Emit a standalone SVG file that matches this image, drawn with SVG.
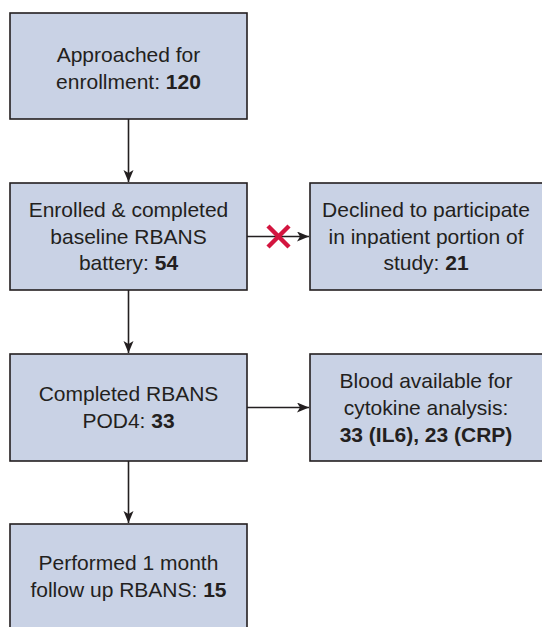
<svg xmlns="http://www.w3.org/2000/svg" width="542" height="627" viewBox="0 0 542 627">
<style>
.box{fill:#c9d2e5;stroke:#231f20;stroke-width:1.6}
.t{font-family:"Liberation Sans",Arial,sans-serif;font-size:21px;fill:#231f20;text-anchor:middle}
.b{font-weight:bold}
.c{stroke:#231f20;stroke-width:1.6;fill:none}
</style>
<defs>
<marker id="ah" markerUnits="userSpaceOnUse" markerWidth="14" markerHeight="12" refX="12" refY="5" orient="auto">
<path d="M0,0 L12,5 L0,10 L3,5 z" fill="#231f20"/>
</marker>
</defs>
<rect width="542" height="627" fill="#ffffff"/>
<g id="n1">
<rect class="box" x="10" y="13" width="237" height="106"/>
<text class="t" x="128.5" y="62">Approached for</text>
<text class="t" x="128.5" y="89">enrollment: <tspan class="b">120</tspan></text>
</g>
<g id="n2">
<rect class="box" x="10" y="183" width="237" height="107"/>
<text class="t" x="128.5" y="217">Enrolled &amp; completed</text>
<text class="t" x="128.5" y="244">baseline RBANS</text>
<text class="t" x="128.5" y="270">battery: <tspan class="b">54</tspan></text>
</g>
<g id="n3">
<rect class="box" x="310" y="183" width="240" height="107"/>
<text class="t" x="426" y="217">Declined to participate</text>
<text class="t" x="426" y="244">in inpatient portion of</text>
<text class="t" x="426" y="270">study: <tspan class="b">21</tspan></text>
</g>
<g id="n4">
<rect class="box" x="10" y="354" width="237" height="107"/>
<text class="t" x="128.5" y="401">Completed RBANS</text>
<text class="t" x="128.5" y="428">POD4: <tspan class="b">33</tspan></text>
</g>
<g id="n5">
<rect class="box" x="310" y="354" width="240" height="107"/>
<text class="t" x="426" y="388">Blood available for</text>
<text class="t" x="426" y="415">cytokine analysis:</text>
<text class="t b" x="426" y="442">33 (IL6), 23 (CRP)</text>
</g>
<g id="n6">
<rect class="box" x="10" y="524" width="237" height="120"/>
<text class="t" x="128.5" y="570">Performed 1 month</text>
<text class="t" x="128.5" y="597">follow up RBANS: <tspan class="b">15</tspan></text>
</g>
<g id="connectors">
<line class="c" x1="128.5" y1="119" x2="128.5" y2="182" marker-end="url(#ah)"/>
<line class="c" x1="128.5" y1="290" x2="128.5" y2="353" marker-end="url(#ah)"/>
<line class="c" x1="128.5" y1="461" x2="128.5" y2="523" marker-end="url(#ah)"/>
<line class="c" x1="247" y1="236.5" x2="309" y2="236.5" marker-end="url(#ah)"/>
<line class="c" x1="247" y1="407.5" x2="309" y2="407.5" marker-end="url(#ah)"/>
<g id="cross" stroke="#d3153f" stroke-width="4.5" stroke-linecap="butt">
<line x1="268" y1="226" x2="289" y2="247"/>
<line x1="289" y1="226" x2="268" y2="247"/>
</g>
</g>
</svg>
